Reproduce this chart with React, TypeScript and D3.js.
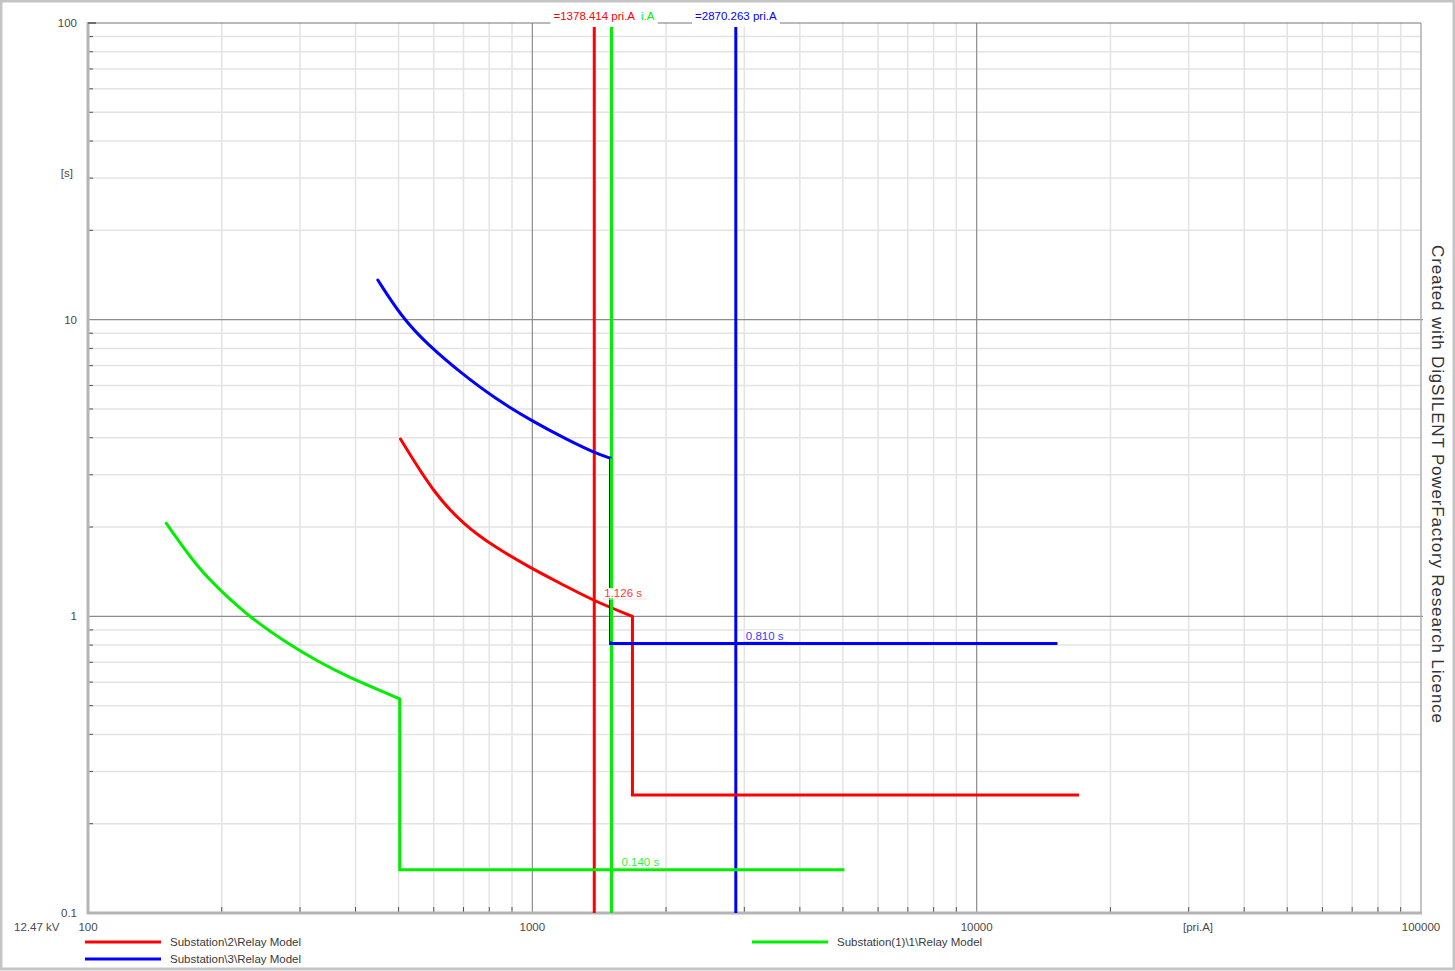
import React, { useRef, useEffect } from "react";
import * as d3 from "d3";

// Time-overcurrent characteristics: [current pri.A, time s]
const redCurve: [number, number][] = [
  [505, 3.96], [603, 2.57], [704, 2.03], [809, 1.74], [995, 1.45],
  [1182, 1.27], [1378, 1.126], [1680, 1.0],
];
const redSteps: [number, number][] = [[1680, 1.0], [1680, 0.25], [17000, 0.25]];

const blueCurve: [number, number][] = [
  [449, 13.6], [507, 10.24], [582, 8.22], [692, 6.6], [823, 5.43],
  [1004, 4.53], [1203, 3.93], [1381, 3.56], [1500, 3.41],
];
const blueSteps: [number, number][] = [[1500, 3.41], [1500, 0.81], [15200, 0.81]];

const greenCurve: [number, number][] = [
  [150, 2.06], [177, 1.45], [200, 1.21], [233, 0.985], [277, 0.822],
  [329, 0.704], [391, 0.618], [442, 0.573], [503, 0.527],
];
const greenSteps: [number, number][] = [[503, 0.527], [503, 0.14], [5040, 0.14]];

// vertical current markers (green, red, blue)
const markerCurrents = [1507.116, 1378.414, 2870.263];
const markerLabels = ["i.A", "=1378.414 pri.A", "=2870.263 pri.A"];
const markerColors = ["#00ee00", "#ff0000", "#0000ff"];
const markerTimes = [0.14, 1.126, 0.81];
const markerTimeLabels = ["0.140 s", "1.126 s", "0.810 s"];

const xTickValues = [100, 1000, 10000, 100000];
const xTickLabels = ["100", "1000", "10000", "100000"];
const yTickValues = [100, 10, 1, 0.1];
const yTickLabels = ["100", "10", "1", "0.1"];

const legendNames = [
  "Substation\\2\\Relay Model",
  "Substation\\3\\Relay Model",
  "Substation(1)\\1\\Relay Model",
];
const legendColors = ["#ff0000", "#0000ff", "#00ee00"];

const W = 1455;
const H = 971;
const FONT = "'Liberation Sans', Arial, sans-serif";
const FS = 11.5;

export default function App() {
  const svgRef = useRef<SVGSVGElement>(null);

  useEffect(() => {
    const svg = d3.select(svgRef.current);
    svg.selectAll("*").remove();

    const left = 88, right = 1421, top = 23, bottom = 913;

    const x = d3.scaleLog().domain([100, 100000]).range([left, right]);
    const y = d3.scaleLog().domain([0.1, 100]).range([bottom, top]);

    svg.append("rect").attr("width", W).attr("height", H).attr("fill", "white");
    // window frame
    svg.append("rect")
      .attr("x", 1).attr("y", 1).attr("width", W - 2).attr("height", H - 3)
      .attr("fill", "none").attr("stroke", "#c4c4c4").attr("stroke-width", 3);

    const defs = svg.append("defs");
    defs.append("clipPath").attr("id", "plot-clip")
      .append("rect").attr("x", left).attr("y", top)
      .attr("width", right - left).attr("height", bottom - top);

    const grid = svg.append("g");
    // minor grid
    const minorX: number[] = [];
    const minorY: number[] = [];
    [100, 1000, 10000].forEach((d) => {
      for (let k = 2; k <= 9; k++) minorX.push(d * k);
    });
    [0.1, 1, 10].forEach((d) => {
      for (let k = 2; k <= 9; k++) minorY.push(d * k);
    });
    minorX.forEach((v) => {
      grid.append("line")
        .attr("x1", x(v)).attr("x2", x(v)).attr("y1", top).attr("y2", bottom)
        .attr("stroke", "#e3e3e3").attr("stroke-width", 1.5);
      grid.append("line")
        .attr("x1", x(v)).attr("x2", x(v)).attr("y1", bottom - 6).attr("y2", bottom)
        .attr("stroke", "#555").attr("stroke-width", 1);
    });
    minorY.forEach((v) => {
      grid.append("line")
        .attr("x1", left).attr("x2", right).attr("y1", y(v)).attr("y2", y(v))
        .attr("stroke", "#e3e3e3").attr("stroke-width", 1.5);
      grid.append("line")
        .attr("x1", left).attr("x2", left + 5).attr("y1", y(v)).attr("y2", y(v))
        .attr("stroke", "#555").attr("stroke-width", 1);
    });
    // major grid
    [1000, 10000].forEach((v) => {
      grid.append("line")
        .attr("x1", x(v)).attr("x2", x(v)).attr("y1", top).attr("y2", bottom)
        .attr("stroke", "#8c8c8c").attr("stroke-width", 1.2);
    });
    [10, 1].forEach((v) => {
      grid.append("line")
        .attr("x1", left).attr("x2", right + 2).attr("y1", y(v)).attr("y2", y(v))
        .attr("stroke", "#8c8c8c").attr("stroke-width", 1.2);
    });
    // right border + top border
    grid.append("line")
      .attr("x1", right).attr("x2", right).attr("y1", top).attr("y2", bottom)
      .attr("stroke", "#b0b0b0").attr("stroke-width", 1.5);
    grid.append("line")
      .attr("x1", left).attr("x2", right).attr("y1", top).attr("y2", top)
      .attr("stroke", "#777").attr("stroke-width", 1.2);
    // axes
    grid.append("line")
      .attr("x1", left).attr("x2", left).attr("y1", top - 1).attr("y2", bottom + 1)
      .attr("stroke", "#b5b5b5").attr("stroke-width", 3);
    grid.append("line")
      .attr("x1", left - 1).attr("x2", right + 1).attr("y1", bottom).attr("y2", bottom)
      .attr("stroke", "#b5b5b5").attr("stroke-width", 3);
    grid.append("line")
      .attr("x1", left).attr("x2", left + 8).attr("y1", top).attr("y2", top)
      .attr("stroke", "#555").attr("stroke-width", 1.5);

    // tick labels
    const lab = svg.append("g").attr("font-family", FONT).attr("font-size", FS).attr("fill", "#4a4a4a");
    yTickValues.forEach((v, i) => {
      lab.append("text").attr("x", 77).attr("y", y(v)).attr("dy", "0.35em")
        .attr("text-anchor", "end").text(yTickLabels[i]);
    });
    lab.append("text").attr("x", 73).attr("y", 173).attr("dy", "0.35em")
      .attr("text-anchor", "end").text("[s]");
    xTickValues.forEach((v, i) => {
      lab.append("text").attr("x", x(v)).attr("y", 931)
        .attr("text-anchor", "middle").text(xTickLabels[i]);
    });
    lab.append("text").attr("x", 1198).attr("y", 931).attr("text-anchor", "middle").text("[pri.A]");
    lab.append("text").attr("x", 14).attr("y", 931).text("12.47 kV");

    // curves
    const curveLine = d3.line<[number, number]>()
      .x((d) => x(d[0])).y((d) => y(d[1]))
      .curve(d3.curveBasis);
    const stepLine = d3.line<[number, number]>()
      .x((d) => x(d[0])).y((d) => y(d[1]));

    const plot = svg.append("g").attr("clip-path", "url(#plot-clip)");

    // vertical markers
    markerCurrents.forEach((c, i) => {
      plot.append("line")
        .attr("x1", x(c)).attr("x2", x(c)).attr("y1", top).attr("y2", bottom)
        .attr("stroke", markerColors[i]).attr("stroke-width", 3);
    });

    const series = [
      { c: greenCurve, s: greenSteps, col: "#00ee00" },
      { c: redCurve, s: redSteps, col: "#ff0000" },
      { c: blueCurve, s: blueSteps, col: "#0000ff" },
    ];
    series.forEach((sr) => {
      plot.append("path").attr("d", curveLine(sr.c))
        .attr("fill", "none").attr("stroke", sr.col).attr("stroke-width", 3)
        .attr("stroke-linecap", "round");
      plot.append("path").attr("d", stepLine(sr.s))
        .attr("fill", "none").attr("stroke", sr.col).attr("stroke-width", 3)
        .attr("stroke-linejoin", "miter");
    });
    // green vertical marker drawn over the blue drop like in the original
    plot.append("line")
      .attr("x1", x(markerCurrents[0])).attr("x2", x(markerCurrents[0]))
      .attr("y1", y(blueSteps[0][1])).attr("y2", y(blueSteps[1][1]) - 2)
      .attr("stroke", markerColors[0]).attr("stroke-width", 3);

    // time labels at crossings (white box behind, as in PowerFactory)
    const tl = svg.append("g").attr("font-family", FONT).attr("font-size", FS);
    markerCurrents.forEach((c, i) => {
      const tx = x(c) + 10;
      const ty = y(markerTimes[i]) - 8;
      const t = tl.append("text").attr("x", tx).attr("y", ty).attr("dy", "0.35em")
        .attr("fill", markerColors[i]).attr("opacity", 0.8).text(markerTimeLabels[i]);
      const bb = (t.node() as SVGTextElement).getBBox();
      tl.insert("rect", () => t.node() as SVGTextElement)
        .attr("x", bb.x - 1).attr("y", bb.y + 1).attr("width", bb.width + 2).attr("height", bb.height - 2)
        .attr("fill", "white");
      tl.append("line").attr("x1", bb.x - 2).attr("x2", bb.x + bb.width + 4)
        .attr("y1", ty + 6).attr("y2", ty + 6).attr("stroke", "#e4e4e4").attr("stroke-width", 1);
    });

    // current labels on top edge
    const tp = svg.append("g").attr("font-family", FONT).attr("font-size", FS);
    markerCurrents.forEach((c, i) => {
      const t = tp.append("text")
        .attr("x", i === 0 ? 641 : x(c)).attr("y", 16).attr("dy", "0.35em")
        .attr("text-anchor", i === 0 ? "start" : "middle")
        .attr("fill", markerColors[i]).text(markerLabels[i]);
      const bb = (t.node() as SVGTextElement).getBBox();
      tp.insert("rect", () => t.node() as SVGTextElement)
        .attr("x", bb.x - 3).attr("y", 9).attr("width", bb.width + 6).attr("height", 18)
        .attr("fill", "white");
    });

    // legend
    const lg = svg.append("g").attr("font-family", FONT).attr("font-size", FS).attr("fill", "#3a3a3a");
    const legendPos = [[85, 942], [85, 959], [752, 942]];
    legendNames.forEach((n, i) => {
      const [lx, ly] = legendPos[i];
      lg.append("line").attr("x1", lx).attr("x2", lx + 76).attr("y1", ly).attr("y2", ly)
        .attr("stroke", legendColors[i]).attr("stroke-width", 3);
      lg.append("text").attr("x", lx + 85).attr("y", ly).attr("dy", "0.35em").text(n);
    });

    // vertical watermark
    svg.append("text")
      .attr("transform", `translate(1432, 484) rotate(90)`)
      .attr("text-anchor", "middle")
      .attr("font-family", FONT).attr("font-size", 17)
      .attr("fill", "#333")
      .attr("textLength", 478)
      .text("Created with DigSILENT PowerFactory Research Licence");
  }, []);

  return (
    <div style={{ position: "absolute", left: 0, top: 0 }}>
      <svg ref={svgRef} width={W} height={H} style={{ display: "block" }} />
    </div>
  );
}
